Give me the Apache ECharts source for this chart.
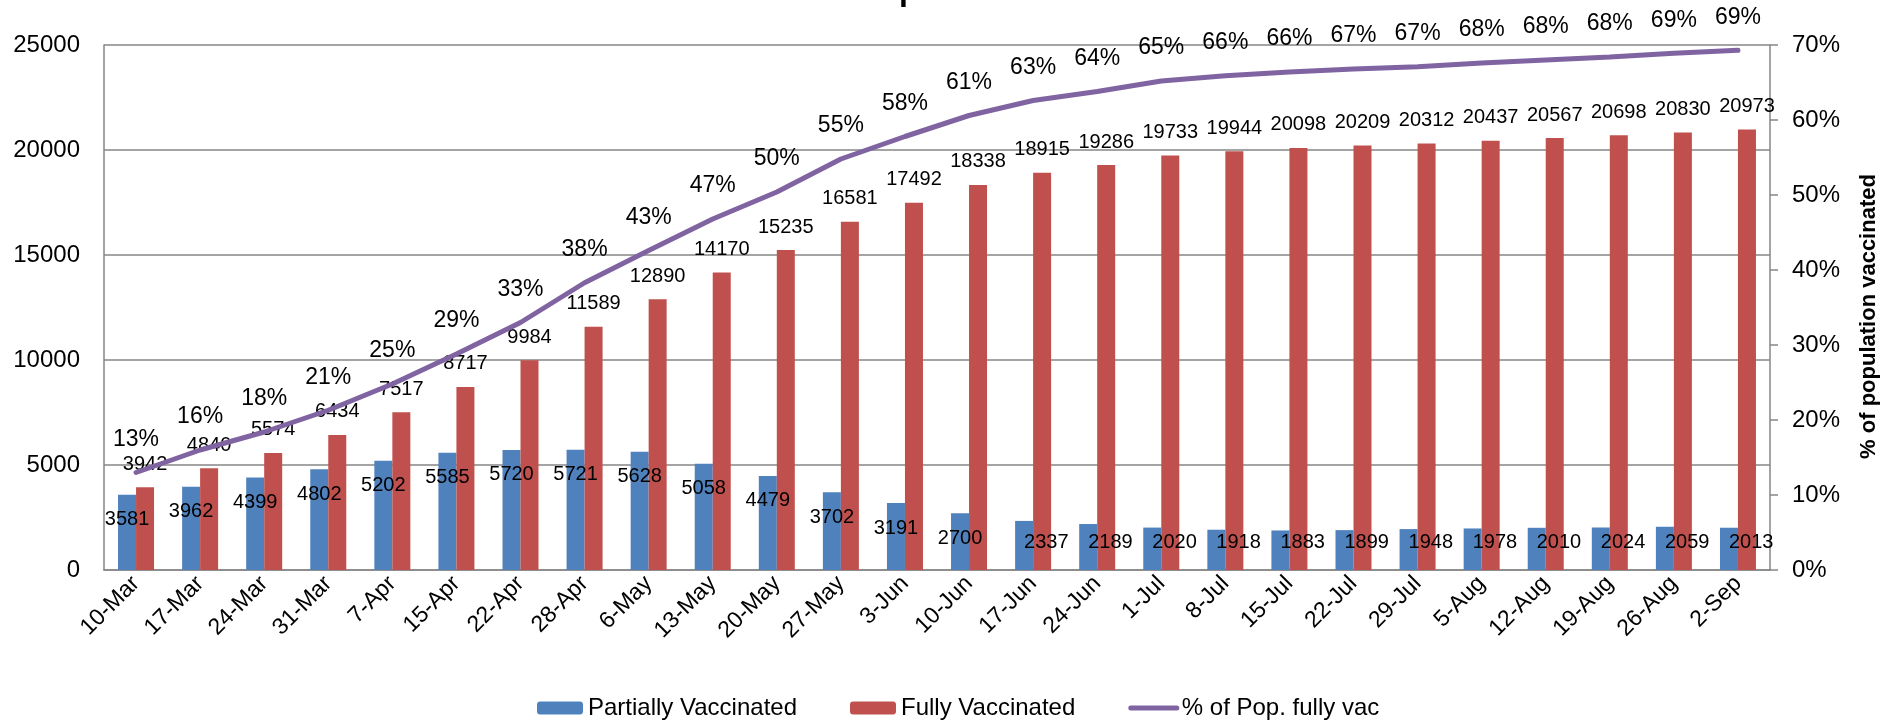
<!DOCTYPE html>
<html>
<head>
<meta charset="utf-8">
<script src="https://cdn.jsdelivr.net/npm/echarts@6/dist/echarts.min.js"></script>
<style>
html,body{margin:0;padding:0;background:#fff;}
#chart{width:1898px;height:725px;}
</style>
</head>
<body>
<div id="chart"></div>
<script>
var categories = ['10-Mar','17-Mar','24-Mar','31-Mar','7-Apr','15-Apr','22-Apr','28-Apr','6-May','13-May','20-May','27-May','3-Jun','10-Jun','17-Jun','24-Jun','1-Jul','8-Jul','15-Jul','22-Jul','29-Jul','5-Aug','12-Aug','19-Aug','26-Aug','2-Sep'];
var partiallyVaccinated = [3581,3962,4399,4802,5202,5585,5720,5721,5628,5058,4479,3702,3191,2700,2337,2189,2020,1918,1883,1899,1948,1978,2010,2024,2059,2013];
var fullyVaccinated = [3942,4840,5574,6434,7517,8717,9984,11589,12890,14170,15235,16581,17492,18338,18915,19286,19733,19944,20098,20209,20312,20437,20567,20698,20830,20973];
var pctFullyVaccinated = [13.0,16.0,18.4,21.3,24.8,28.8,33.0,38.3,42.6,46.8,50.4,54.8,57.8,60.6,62.6,63.8,65.2,65.9,66.4,66.8,67.1,67.6,68.0,68.4,68.9,69.3];
var seriesNames = ['Partially Vaccinated','Fully Vaccinated','% of Pop. fully vac'];
var titleText = '% of Total Population Vaccinated';
var rightAxisName = '% of population vaccinated';

var FONT = 'Liberation Sans, Arial, sans-serif';
var chart = echarts.init(document.getElementById('chart'), null, {renderer:'canvas'});
var option = {
  backgroundColor: '#ffffff',
  animation: false,
  title: {
    text: titleText,
    left: 'center',
    top: -30,
    textStyle: {fontFamily: FONT, fontSize: 32, fontWeight: 'bold', color: '#000'}
  },
  grid: {left: 104, right: 128, top: 45, bottom: 155, containLabel: false},
  legend: {
    data: [
      {name: seriesNames[0]},
      {name: seriesNames[1]},
      {name: seriesNames[2], itemStyle: {opacity: 0}, lineStyle: {width: 5, cap: 'round'}}
    ],
    left: 532,
    top: 691,
    itemWidth: 46,
    itemHeight: 13,
    itemGap: 53,
    textStyle: {fontFamily: FONT, fontSize: 24, color: '#000'}
  },
  xAxis: {
    type: 'category',
    data: categories,
    axisLine: {show: true, lineStyle: {color: '#868686', width: 1.5}},
    axisTick: {show: false},
    axisLabel: {rotate: 45, fontFamily: FONT, fontSize: 23, color: '#000', margin: 10, interval: 0}
  },
  yAxis: [
    {
      type: 'value', min: 0, max: 25000, interval: 5000,
      axisLine: {show: true, lineStyle: {color: '#868686', width: 1.5}},
      axisTick: {show: false},
      splitLine: {show: true, lineStyle: {color: '#868686', width: 1.5}},
      axisLabel: {fontFamily: FONT, fontSize: 24, color: '#000', margin: 24,
        formatter: function (v) { return String(v); }}
    },
    {
      type: 'value', min: 0, max: 70, interval: 10, position: 'right',
      name: rightAxisName,
      nameLocation: 'middle',
      nameRotate: 90,
      nameGap: 88,
      nameTextStyle: {fontFamily: FONT, fontSize: 22, fontWeight: 'bold', color: '#000', padding: [0, 18, 0, 0]},
      axisLine: {show: true, lineStyle: {color: '#868686', width: 1.5}},
      axisTick: {show: true, inside: false, length: 8, lineStyle: {color: '#868686', width: 1.5}},
      splitLine: {show: false},
      axisLabel: {fontFamily: FONT, fontSize: 24, color: '#000', margin: 22, formatter: '{value}%'}
    }
  ],
  series: [
    {
      name: seriesNames[0],
      type: 'bar',
      data: partiallyVaccinated,
      barWidth: 18,
      barGap: '0%',
      itemStyle: {color: '#4F81BD'},
      label: {show: true, position: 'insideTop', distance: 15, fontFamily: FONT, fontSize: 20, color: '#000'},
      labelLayout: function (p) {
        var lim = 532;
        if (p.labelRect.y > lim) { return {y: lim}; }
        return {};
      }
    },
    {
      name: seriesNames[1],
      type: 'bar',
      data: fullyVaccinated,
      barWidth: 18,
      barGap: '0%',
      itemStyle: {color: '#C0504D'},
      label: {show: true, position: 'top', distance: 13, fontFamily: FONT, fontSize: 20, color: '#000'}
    },
    {
      name: seriesNames[2],
      type: 'line',
      yAxisIndex: 1,
      data: pctFullyVaccinated,
      symbol: 'circle',
      symbolSize: 1,
      showSymbol: true,
      showAllSymbol: true,
      smooth: false,
      lineStyle: {color: '#8064A2', width: 5, cap: 'round'},
      itemStyle: {color: '#8064A2'},
      label: {
        show: true, position: 'top', distance: 21,
        fontFamily: FONT, fontSize: 23, color: '#000',
        formatter: function (p) { return Math.round(p.value) + '%'; }
      },
      z: 5
    }
  ]
};
chart.setOption(option);
</script>
</body>
</html>
